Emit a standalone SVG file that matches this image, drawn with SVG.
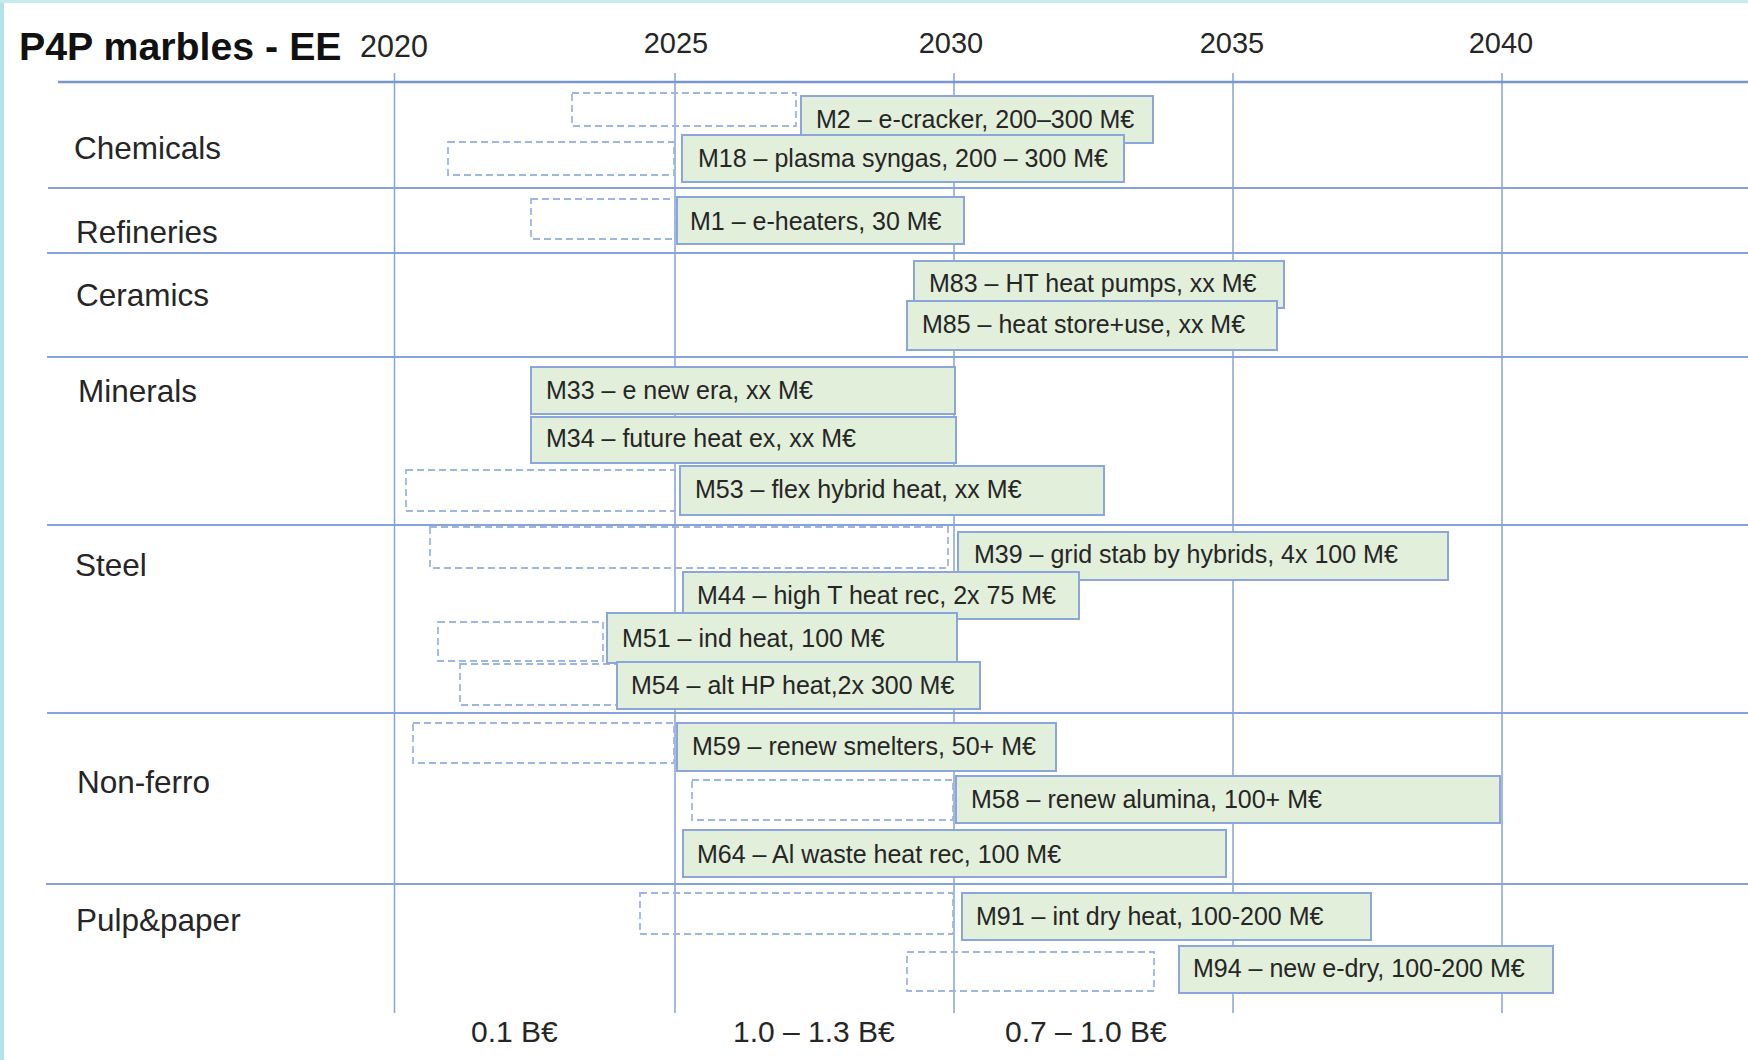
<svg xmlns="http://www.w3.org/2000/svg" width="1748" height="1060" viewBox="0 0 1748 1060">
<style>
.grid{stroke:#86a3da;stroke-width:1.5;fill:none}
.hline{stroke:#86a3da;stroke-width:2;fill:none}
.box{fill:#e2efda;stroke:#8aa6da;stroke-width:2}
.dash{fill:none;stroke:#9fb6e2;stroke-width:1.8;stroke-dasharray:7 4}
text{font-family:"Liberation Sans",Arial,sans-serif;fill:#262626}
.lbl{font-size:25px}
.row{font-size:31.5px}
.yr{font-size:29px;text-anchor:middle}
.sum{font-size:30px}
.title{font-size:39.3px;font-weight:bold;fill:#111}
</style>
<rect x="0" y="0" width="1748" height="1060" fill="#ffffff"/>
<rect x="0" y="0" width="4" height="1060" fill="#b3e2ea"/>
<rect x="0" y="0" width="1748" height="3" fill="#c6ecf0"/>

<g id="header">
<text class="title" x="19" y="60">P4P marbles - EE</text>
<text x="360" y="57" style="font-size:30.5px">2020</text>
<text class="yr" x="676" y="53">2025</text>
<text class="yr" x="951" y="53">2030</text>
<text class="yr" x="1232" y="53">2035</text>
<text class="yr" x="1501" y="53">2040</text>
</g>

<g id="connectors">
<line class="grid" x1="394.5" y1="73" x2="394.5" y2="1013"/>
<line class="grid" x1="675" y1="73" x2="675" y2="1013"/>
<line class="grid" x1="954" y1="73" x2="954" y2="1013"/>
<line class="grid" x1="1233" y1="73" x2="1233" y2="1013"/>
<line class="grid" x1="1502" y1="73" x2="1502" y2="1013"/>
<line class="hline" x1="58" y1="82" x2="1748" y2="82" style="stroke-width:2.6;stroke:#7896d4"/>
<line class="hline" x1="48" y1="188" x2="1748" y2="188"/>
<line class="hline" x1="47" y1="253" x2="1748" y2="253"/>
<line class="hline" x1="47" y1="357" x2="1748" y2="357"/>
<line class="hline" x1="47" y1="525" x2="1748" y2="525"/>
<line class="hline" x1="47" y1="713" x2="1748" y2="713"/>
<line class="hline" x1="46" y1="884" x2="1748" y2="884"/>
</g>

<g id="rows">
<text class="row" x="74" y="159">Chemicals</text>
<text class="row" x="76" y="243">Refineries</text>
<text class="row" x="76" y="306">Ceramics</text>
<text class="row" x="78" y="402">Minerals</text>
<text class="row" x="75" y="576">Steel</text>
<text class="row" x="77" y="793">Non-ferro</text>
<text class="row" x="76" y="931">Pulp&amp;paper</text>
</g>

<g id="plans">
<rect id="m2-plan" class="dash" x="572" y="93" width="224" height="33"/>
<rect id="m18-plan" class="dash" x="448" y="142" width="226" height="33"/>
<rect id="m1-plan" class="dash" x="531" y="199" width="144" height="40"/>
<rect id="m53-plan" class="dash" x="406" y="470" width="269" height="41"/>
<rect id="m39-plan" class="dash" x="430" y="527" width="518" height="41"/>
<rect id="m51-plan" class="dash" x="438" y="622" width="165" height="39"/>
<rect id="m54-plan" class="dash" x="460" y="664" width="165" height="41"/>
<rect id="m59-plan" class="dash" x="413" y="723" width="261" height="40"/>
<rect id="m58-plan" class="dash" x="692" y="780" width="261" height="40"/>
<rect id="m91-plan" class="dash" x="640" y="893" width="313" height="41"/>
<rect id="m94-plan" class="dash" x="907" y="952" width="247" height="39"/>
</g>

<g id="m2"><rect class="box" x="801" y="96" width="352" height="47"/><text class="lbl" x="816" y="128">M2 – e-cracker, 200–300 M€</text></g>
<g id="m18"><rect class="box" x="682" y="135" width="442" height="47"/><text class="lbl" x="698" y="167">M18 – plasma syngas, 200 – 300 M€</text></g>
<g id="m1"><rect class="box" x="677" y="197" width="287" height="47"/><text class="lbl" x="690" y="230">M1 – e-heaters, 30 M€</text></g>
<g id="m83"><rect class="box" x="914" y="261" width="370" height="47"/><text class="lbl" x="929" y="292">M83 – HT heat pumps, xx M€</text></g>
<g id="m85"><rect class="box" x="907" y="301" width="370" height="49"/><text class="lbl" x="922" y="333">M85 – heat store+use, xx M€</text></g>
<g id="m33"><rect class="box" x="531" y="367" width="424" height="47"/><text class="lbl" x="546" y="399">M33 – e new era, xx M€</text></g>
<g id="m34"><rect class="box" x="531" y="417" width="425" height="46"/><text class="lbl" x="546" y="447">M34 – future heat ex, xx M€</text></g>
<g id="m53"><rect class="box" x="680" y="466" width="424" height="49"/><text class="lbl" x="695" y="498">M53 – flex hybrid heat, xx M€</text></g>
<g id="m39"><rect class="box" x="958" y="532" width="490" height="48"/><text class="lbl" x="974" y="563">M39 – grid stab by hybrids, 4x 100 M€</text></g>
<g id="m44"><rect class="box" x="683" y="572" width="396" height="47"/><text class="lbl" x="697" y="604">M44 – high T heat rec, 2x 75 M€</text></g>
<g id="m51"><rect class="box" x="607" y="613" width="350" height="50"/><text class="lbl" x="622" y="647">M51 – ind heat, 100 M€</text></g>
<g id="m54"><rect class="box" x="617" y="662" width="363" height="47"/><text class="lbl" x="631" y="694">M54 – alt HP heat,2x 300 M€</text></g>
<g id="m59"><rect class="box" x="677" y="723" width="379" height="48"/><text class="lbl" x="692" y="755">M59 – renew smelters, 50+ M€</text></g>
<g id="m58"><rect class="box" x="956" y="776" width="544" height="47"/><text class="lbl" x="971" y="808">M58 – renew alumina, 100+ M€</text></g>
<g id="m64"><rect class="box" x="683" y="830" width="543" height="47"/><text class="lbl" x="697" y="863">M64 – Al waste heat rec, 100 M€</text></g>
<g id="m91"><rect class="box" x="962" y="893" width="409" height="47"/><text class="lbl" x="976" y="925">M91 – int dry heat, 100-200 M€</text></g>
<g id="m94"><rect class="box" x="1179" y="946" width="374" height="47"/><text class="lbl" x="1193" y="977">M94 – new e-dry, 100-200 M€</text></g>

<g id="totals">
<text class="sum" x="471" y="1042">0.1 B€</text>
<text class="sum" x="733" y="1042">1.0 – 1.3 B€</text>
<text class="sum" x="1005" y="1042">0.7 – 1.0 B€</text>
</g>
</svg>
